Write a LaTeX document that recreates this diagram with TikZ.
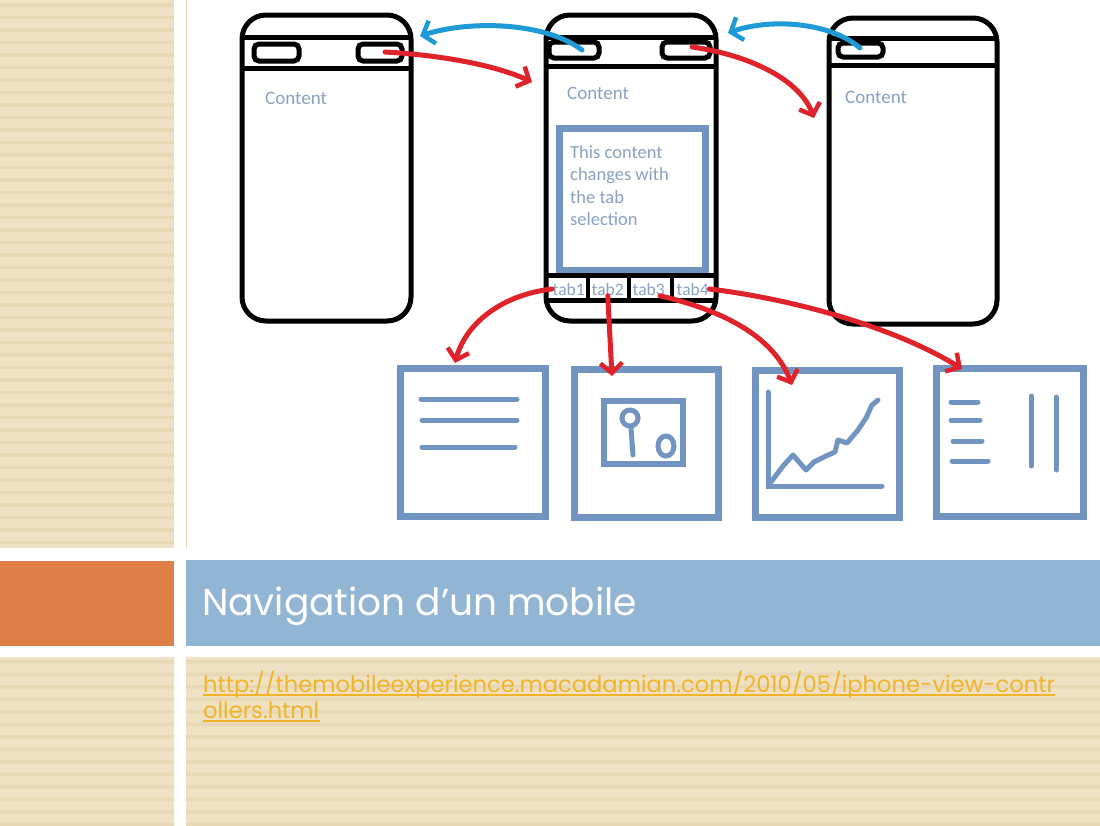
\documentclass[tikz,border=0pt]{standalone}
\usepackage{fontspec}
\setmainfont{Carlito}
\newfontfamily\titlefont{Poppins}
\usetikzlibrary{arrows.meta}
\definecolor{tanbg}{HTML}{EFE1C3}
\definecolor{tanline}{HTML}{E8D8B6}
\definecolor{orangebox}{HTML}{DD7F46}
\definecolor{titleblue}{HTML}{93B5D4}
\definecolor{boxblue}{HTML}{7294C0}
\definecolor{txtblue}{HTML}{8AA2C2}
\definecolor{linkgold}{HTML}{F0B429}
\definecolor{redpen}{HTML}{E0222A}
\definecolor{bluepen}{HTML}{1E9AD6}
\tikzset{
  phone/.style={draw=black,line width=5pt,rounded corners=24pt},
  blk/.style={draw=black,line width=5pt},
  btn/.style={draw=black,line width=5pt,rounded corners=5pt},
  icon/.style={draw=boxblue,line width=7pt},
  iconln/.style={draw=boxblue,line width=5pt,line cap=round},
  redarrow/.style={draw=redpen,line width=5pt,line cap=round,-{Straight Barb[length=10pt,width=22pt,line width=4.5pt]}},
  bluearrow/.style={draw=bluepen,line width=5pt,line cap=round,-{Straight Barb[length=10pt,width=24pt,line width=4.5pt]}},
  contenttxt/.style={text=txtblue,font=\fontsize{19}{22}\selectfont,inner sep=0pt,anchor=base west},
  tabtxt/.style={text=txtblue,font=\fontsize{17.5}{20}\selectfont,inner sep=0.5pt,fill=white,anchor=base west},
}
\begin{document}
\begin{tikzpicture}[x=1pt,y=-1pt]
\useasboundingbox (0,0) rectangle (1100,825);
\fill[white] (0,0) rectangle (1100,825);
% striped panels
\fill[tanbg] (0,0) rectangle (174,548);
\fill[tanbg] (0,657) rectangle (174,825);
\fill[tanbg] (186,657) rectangle (1100,825);
\foreach \y in {3,15.5,...,548} {\fill[tanline] (0,\y) rectangle (174,\y+3.5);}
\foreach \y in {660,672.5,...,825} {\fill[tanline] (0,\y) rectangle (174,\y+3.5) (186,\y) rectangle (1100,\y+3.5);}
\draw[tanline,line width=1.5pt] (186.5,0) -- (186.5,548);
% title bar
\fill[orangebox] (0,561) rectangle (174,646);
\fill[titleblue] (186,560) rectangle (1100,646);
\node[anchor=base west,inner sep=0pt,text=white,font=\titlefont\fontsize{37.5}{42}\selectfont] (title) at (202,615) {Navigation d’un mobile};
\node[anchor=base west,inner sep=0pt,text=linkgold,font=\titlefont\fontsize{22.6}{26}\selectfont] (link1) at (203,692) {http://themobileexperience.macadamian.com/2010/05/iphone-view-contr};
\node[anchor=base west,inner sep=0pt,text=linkgold,font=\titlefont\fontsize{22.6}{26}\selectfont] (link2) at (203,718) {ollers.html};
\draw[linkgold,line width=1.5pt] ([yshift=-3pt]link1.base west) -- ([yshift=-3pt]link1.base east);
\draw[linkgold,line width=1.5pt] ([yshift=-3pt]link2.base west) -- ([yshift=-3pt]link2.base east);
% phone 1
\draw[phone] (242,15) rectangle (411,321);
\draw[blk] (242,37) -- (411,37) (242,68) -- (411,68);
\draw[btn] (254,44) rectangle (299,61);
\draw[btn] (358,44) rectangle (402,61);
\node[contenttxt] (c1) at (265,104) {Content};
% phone 2
\draw[phone] (546,15) rectangle (716,321);
\draw[blk] (546,37) -- (716,37) (546,66) -- (716,66);
\draw[btn] (549,42) rectangle (599,58);
\draw[btn] (662,42) rectangle (710,58);
\node[contenttxt] (c2) at (567,99) {Content};
\draw[icon] (559,128) rectangle (705,270);
\node[text=txtblue,font=\fontsize{18.5}{22.5}\selectfont,align=left,inner sep=0pt,anchor=north west] (c2b) at (570,145) {This content\\changes with\\the tab\\selection};
\draw[blk] (546,275) -- (716,275) (546,300) -- (716,300);
\draw[blk,line width=4pt] (588,275) -- (588,300) (629,275) -- (629,300) (672,275) -- (672,300);
\node[tabtxt] (t1) at (552,295) {tab1};
\node[tabtxt] (t2) at (591,295) {tab2};
\node[tabtxt] (t3) at (632,295) {tab3};
\node[tabtxt] (t4) at (676,295) {tab4};
% phone 3
\draw[phone] (829,18) rectangle (997,324);
\draw[blk] (829,38) -- (997,38) (829,65) -- (997,65);
\draw[btn] (838,43) rectangle (883,57);
\node[contenttxt] (c3) at (845,103) {Content};
% icon boxes
\draw[icon] (400,368) rectangle (545,516);
\draw[iconln] (421,399) -- (517,399) (422,420) -- (517,420) (422,447) -- (515,447);
\draw[icon] (574,369) rectangle (718,517);
\draw[boxblue,line width=6pt] (604,401) rectangle (683,464);
\draw[boxblue,line width=5pt] (630,418) circle (8);
\draw[iconln] (631,428) -- (633,455);
\draw[boxblue,line width=5pt] (666,446) ellipse (8 and 10);
\draw[icon] (755,370) rectangle (899,517);
\draw[iconln] (768,392) -- (768,486) -- (882,486);
\draw[iconln,line join=round] (771,482) -- (783,466) -- (793,455) -- (806,470) -- (814,462) -- (826,456) -- (835,452) -- (838,440) -- (847,443) -- (858,430) -- (866,418) -- (872,405) -- (878,400);
\draw[icon] (936,368) rectangle (1083,516);
\draw[iconln] (951,402) -- (978,402) (951,420) -- (980,420) (953,441) -- (982,441) (952,461) -- (988,461);
\draw[iconln] (1031,396) -- (1031,466) (1056,397) -- (1056,470);
% coordinates for connectors
\coordinate (a1s) at (385,52);
\coordinate (a1e) at (532,82);
\coordinate (a2s) at (692,47);
\coordinate (a2e) at (814,118);
\coordinate (b1s) at (582,50);
\coordinate (b1e) at (420,36);
\coordinate (b2s) at (860,48);
\coordinate (b2e) at (728,33);
\coordinate (r1e) at (455,363);
\coordinate (r2e) at (612,376);
\coordinate (r3e) at (792,385);
\coordinate (r4e) at (962,369);
% arrows
\draw[redarrow] (a1s) .. controls (440,55) and (495,65) .. (a1e);
\draw[redarrow] (a2s) .. controls (750,55) and (800,80) .. (a2e);
\draw[bluearrow] (b1s) .. controls (545,22) and (470,20) .. (b1e);
\draw[bluearrow] (b2s) .. controls (830,22) and (770,18) .. (b2e);
\draw[redarrow] (t1.west) .. controls (500,295) and (465,325) .. (r1e);
\draw[redarrow] (t2.south) -- (r2e);
\draw[redarrow] (t3.south west) ++(28,0) .. controls (730,312) and (775,340) .. (r3e);
\draw[redarrow] (t4.east) .. controls (800,300) and (900,330) .. (r4e);
\end{tikzpicture}
\end{document}
